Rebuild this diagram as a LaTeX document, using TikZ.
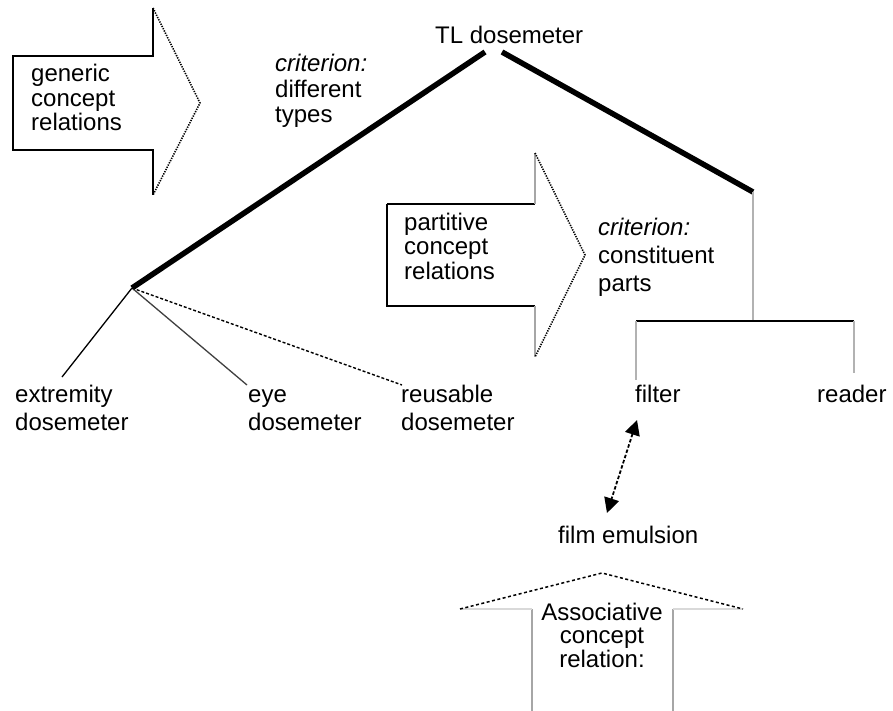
\documentclass[tikz,border=0pt]{standalone}
\usepackage{fontspec}
\setmainfont{Liberation Sans}
\usetikzlibrary{arrows.meta}
\newcommand\leftstack[2]{\vtop{\baselineskip=#1\lineskiplimit=-20pt\lineskip=0pt\halign{##\hfil\cr#2\crcr}}}
\newcommand\centerstack[2]{\vtop{\baselineskip=#1\lineskiplimit=-20pt\lineskip=0pt\halign{\hfil##\hfil\cr#2\crcr}}}
\begin{document}
\begin{tikzpicture}[x=1pt,y=-1pt,
  lbl/.style={font=\fontsize{24}{24}\selectfont, inner sep=0pt, anchor=base west},
  clbl/.style={font=\fontsize{24}{24}\selectfont, inner sep=0pt, anchor=base},
  boxedge/.style={line width=1.5pt, black},
  faintedge/.style={line width=1.4pt, black!35},
  headedge/.style={line width=1.6pt, dash pattern=on 1.3pt off 1.2pt},
  headdash/.style={line width=1.5pt, dash pattern=on 3pt off 2.5pt},
  thickline/.style={line width=5.5pt, black},
  thinline/.style={line width=1.4pt, black},
  grayline/.style={line width=1.4pt, black!30},
  treeline/.style={line width=1.3pt, black},
  dashline/.style={line width=1.4pt, dash pattern=on 3pt off 2pt},
  assoc/.style={line width=1.8pt, dash pattern=on 3.5pt off 2pt,
    {Triangle[length=15pt,width=15pt]}-{Triangle[length=15pt,width=15pt]}}]
\useasboundingbox[fill=white] (0,0) rectangle (893,711);

% generic concept relations arrow
\draw[boxedge] (153,8) -- (153,56) -- (13,56) -- (13,150) -- (153,150) -- (153,195);
\draw[headedge] (153,8) -- (200,103) -- (153,195);
\node[lbl] (gen) at (31,82) {\leftstack{24.5pt}{generic\cr concept\cr relations}};

% partitive concept relations arrow
\draw[boxedge] (387,204) -- (535,204);
\draw[boxedge] (387,204) -- (387,306) -- (535,306);
\draw[faintedge] (535,153) -- (535,204);
\draw[faintedge] (535,306) -- (535,357);
\draw[headedge] (535,153) -- (585,255) -- (535,357);
\node[lbl] (part) at (404,230) {\leftstack{24.5pt}{partitive\cr concept\cr relations}};

% associative concept relation arrow
\draw[faintedge] (532,711) -- (532,609);
\draw[faintedge] (673,609) -- (673,711);
\draw[line width=1.2pt, black!15] (460,609) -- (532,609);
\draw[line width=1.2pt, black!15] (673,609) -- (743,609);
\draw[headdash] (460,609) -- (602,573) -- (743,609);
\node[clbl] (assoc) at (602,620) {\centerstack{23.5pt}{Associative\cr concept\cr relation:}};

% criterion labels
\node[lbl] (crit1) at (275,72) {\leftstack{25.5pt}{\textit{criterion:}\cr different\cr types}};
\node[lbl] (crit2) at (598,236) {\leftstack{27.5pt}{\textit{criterion:}\cr constituent\cr parts}};

% concept nodes
\node[lbl] (tl) at (435,44) {TL dosemeter};
\node[lbl] (extr) at (15,402) {\leftstack{28pt}{extremity\cr dosemeter}};
\node[lbl] (eye) at (248,402) {\leftstack{28pt}{eye\cr dosemeter}};
\node[lbl] (reus) at (401,402) {\leftstack{28pt}{reusable\cr dosemeter}};
\node[lbl] (filter) at (635,402) {filter};
\node[lbl] (reader) at (817,402) {reader};
\node[lbl] (film) at (558,543) {film emulsion};

% connector points
\coordinate (tlL) at (485,52);
\coordinate (tlR) at (502,52);
\coordinate (jL) at (132,288);
\coordinate (jR) at (753,192);
\coordinate (bar) at (753,321);
\coordinate (barL) at (636,321);
\coordinate (barR) at (854,321);
\coordinate (filterTop) at (636,380);
\coordinate (readerTop) at (854,373);
\coordinate (extrTop) at (62,377);
\coordinate (eyeTop) at (247,385);
\coordinate (reusTop) at (402,385);
\coordinate (filterBot) at (637,420);
\coordinate (filmTop) at (607,513);

% tree connectors
\draw[thickline] (tlL) -- (jL);
\draw[thickline] (tlR) -- (jR);
\draw[grayline] (jR) -- (bar);
\draw[thinline] (barL) -- (barR);
\draw[grayline] (barL) -- (filterTop);
\draw[grayline] (barR) -- (readerTop);
\draw[treeline] (jL) -- (extrTop);
\draw[treeline, black!75] (jL) -- (eyeTop);
\draw[dashline] (jL) -- (reusTop);
\draw[assoc] (filterBot) -- (filmTop);
\end{tikzpicture}
\end{document}
